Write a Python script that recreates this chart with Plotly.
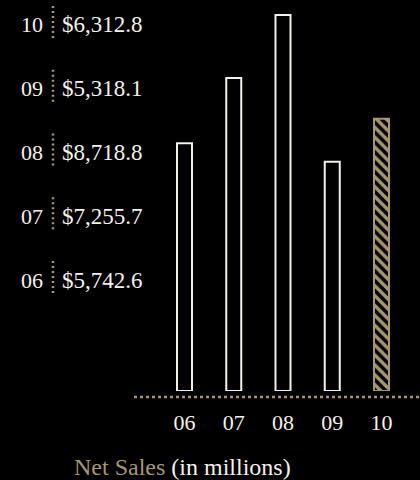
import plotly.graph_objects as go

# Net sales by fiscal year, in millions of dollars
years = ["06", "07", "08", "09", "10"]
net_sales = [5742.6, 7255.7, 8718.8, 5318.1, 6312.8]

GOLD = "#a8966c"
WHITE = "#f4f1ea"
BG = "black"
FONT = "Liberation Serif, Times New Roman, serif"
FS = 22

W, H = 420, 480
plot_bottom = 391           # pixel row of the bar baseline (plot area spans 0..plot_bottom)
px_per_unit = 376 / max(net_sales)
cat_step = 49.25            # pixels between bar centres
first_center = 184.5        # pixel column of the first bar


def py(row):
    """Pixel row -> paper y (paper space is the plot area)."""
    return 1 - row / plot_bottom


highlight = [y == years[-1] for y in years]

fig = go.Figure(
    go.Bar(
        x=years,
        y=net_sales,
        width=15 / cat_step,
        marker=dict(
            color=[GOLD if h else BG for h in highlight],
            line=dict(color=[GOLD if h else WHITE for h in highlight], width=2),
            pattern=dict(
                shape=["\\" if h else "" for h in highlight],
                fgcolor=BG,
                bgcolor=GOLD,
                size=7,
                solidity=0.5,
                fillmode="replace",
            ),
        ),
        hoverinfo="skip",
    )
)

x_lo = -first_center / cat_step
x_hi = (W - first_center) / cat_step
y_hi = plot_bottom / px_per_unit

fig.update_layout(
    width=W,
    height=H,
    paper_bgcolor=BG,
    plot_bgcolor=BG,
    margin=dict(l=0, r=0, t=0, b=H - plot_bottom, pad=0),
    showlegend=False,
    font=dict(family=FONT, color=WHITE, size=FS),
    xaxis=dict(
        type="category",
        range=[x_lo, x_hi],
        showgrid=False,
        zeroline=False,
        showline=False,
        ticks="",
        tickfont=dict(size=FS, color=WHITE, family=FONT),
        ticklabelstandoff=16,
        fixedrange=True,
    ),
    yaxis=dict(
        range=[0, y_hi],
        visible=False,
        fixedrange=True,
    ),
)

# dotted baseline under the bars
fig.add_shape(
    type="line", xref="paper", yref="paper",
    x0=134 / W, x1=1, y0=py(397), y1=py(397),
    line=dict(color=GOLD, width=2.5, dash="dot"),
)

# year / value list down the left side, most recent first
row_top, row_step = 25, 63.75
for i, (yr, val) in enumerate(zip(years[::-1], net_sales[::-1])):
    cy = row_top + i * row_step
    fig.add_annotation(
        xref="paper", yref="paper", x=45 / W, y=py(cy),
        xanchor="right", yanchor="middle", showarrow=False,
        text=yr, font=dict(size=FS, color=WHITE, family=FONT),
    )
    fig.add_annotation(
        xref="paper", yref="paper", x=60 / W, y=py(cy),
        xanchor="left", yanchor="middle", showarrow=False,
        text=f"${val:,.1f}", font=dict(size=FS + 1, color=WHITE, family=FONT),
    )
    seg_c = cy - 2
    fig.add_shape(
        type="line", xref="paper", yref="paper",
        x0=53 / W, x1=53 / W,
        y0=py(seg_c - 17), y1=py(seg_c + 17),
        line=dict(color=GOLD, width=2.5, dash="2px,3px"),
    )

# chart caption
fig.add_annotation(
    xref="paper", yref="paper", x=182 / W, y=py(467),
    xanchor="center", yanchor="middle", showarrow=False,
    text=f"<span style='color:{GOLD}'>Net Sales</span> (in millions)",
    font=dict(size=FS + 2, color=WHITE, family=FONT),
)

fig.write_html("out.html")
